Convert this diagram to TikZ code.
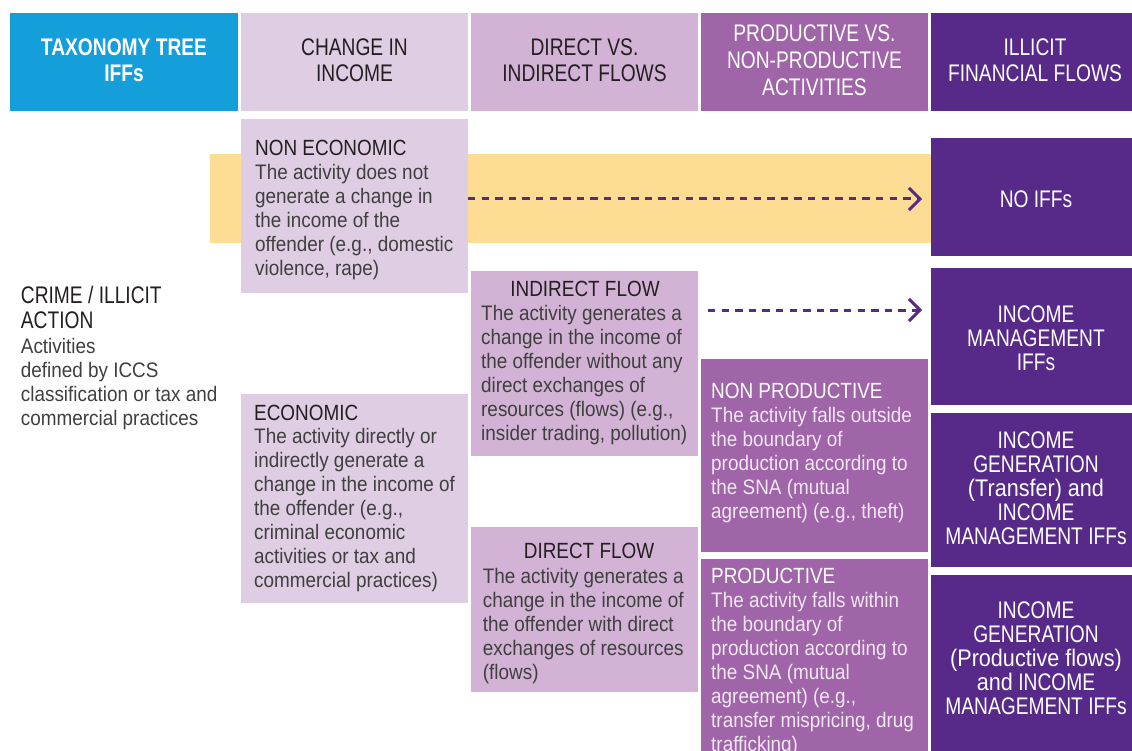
\documentclass[tikz,border=0pt]{standalone}
\usepackage{fontspec}
\setmainfont{Liberation Sans}
\newfontfamily\hdf[FakeStretch=0.8]{Liberation Sans}
\newfontfamily\hdlf[FakeStretch=0.9]{Liberation Sans}
\newfontfamily\sbf[FakeStretch=0.86]{Liberation Sans}
\newfontfamily\bdf[FakeStretch=0.9]{Liberation Sans}
\usetikzlibrary{arrows.meta}
\definecolor{cblue}{HTML}{149FDA}
\definecolor{clight}{HTML}{DFCDE3}
\definecolor{cmid}{HTML}{D2B3D5}
\definecolor{cpur}{HTML}{A064A9}
\definecolor{cdark}{HTML}{572A89}
\definecolor{cyel}{HTML}{FDDD93}
\definecolor{tdark}{HTML}{231F20}
\definecolor{tgray}{HTML}{3F3F3F}
\definecolor{tlite}{HTML}{F1E8F3}
\newcommand\bx[6]{\node[fill=#6, draw=none, inner sep=0pt, outer sep=0pt,
  minimum width={(#4-#2)*1pt}, minimum height={(#5-#3)*1pt},
  anchor=north west] (#1) at (#2,#3) {};}
\newcommand\fl{\rule{0pt}{20pt}}
\begin{document}
\begin{tikzpicture}[x=1pt,y=-1pt,
  hdtext/.style={font=\hdf\fontsize{24}{26.7}\selectfont, align=center, inner sep=0pt, anchor=north},
  rtext/.style={font=\hdf\fontsize{24}{24}\selectfont, align=center, inner sep=0pt, anchor=north, text=white},
  subhead/.style={font=\sbf\fontsize{22}{24}\selectfont, text=tdark, inner sep=0pt, anchor=base west},
  bodytext/.style={font=\bdf\fontsize{21}{24}\selectfont, text=tgray, align=left, inner sep=0pt, anchor=north west},
  flow/.style={draw=cdark, line width=3pt, dash pattern=on 7.3pt off 6.3pt,
    -{Straight Barb[length=11pt,width=22pt]}}
]
\useasboundingbox (0,0) rectangle (1132,751);
% header row
\bx{h0}{10}{13}{238}{111}{cblue}
\bx{h1}{241}{13}{468}{111}{clight}
\bx{h2}{471}{13}{698}{111}{cmid}
\bx{h3}{701}{13}{928}{111}{cpur}
\bx{h4}{931}{13}{1140}{111}{cdark}
\node[hdtext, text=white, font=\hdf\bfseries\fontsize{24}{26.7}\selectfont] (t0) at (124,35) {\fl TAXONOMY TREE\\IFFs};
\node[hdtext, text=tdark] (t1) at (354.5,35) {\fl CHANGE IN\\INCOME};
\node[hdtext, text=tdark] (t2) at (584.5,35) {\fl DIRECT VS.\\INDIRECT FLOWS};
\node[hdtext, text=white] (t3) at (814.5,21.7) {\fl PRODUCTIVE VS.\\NON-PRODUCTIVE\\ACTIVITIES};
\node[hdtext, text=white] (t4) at (1035,35) {\fl ILLICIT\\FINANCIAL FLOWS};
% body boxes
\bx{band}{210}{154}{931}{242.7}{cyel}
\bx{noneco}{241}{119}{468}{292.7}{clight}
\bx{eco}{241}{394}{468}{602.7}{clight}
\bx{indirect}{471}{271}{698}{456}{cmid}
\bx{direct}{471}{527.3}{698}{692.3}{cmid}
\bx{nonprod}{701}{359}{928}{551.7}{cpur}
\bx{prod}{701}{559.3}{928}{770}{cpur}
\bx{noifs}{931}{138}{1140}{256}{cdark}
\bx{incmgmt}{931}{268}{1140}{405}{cdark}
\bx{transfer}{931}{413}{1140}{567}{cdark}
\bx{prodflows}{931}{575}{1140}{770}{cdark}
% left text
\node[font=\hdf\fontsize{24}{25}\selectfont, text=tdark, align=left, inner sep=0pt, anchor=north west] (crimeh) at (20.7,283.3) {\fl CRIME / ILLICIT\\ACTION};
\node[bodytext] (crimeb) at (20.7,333.3) {\fl Activities\\defined by ICCS\\classification or tax and\\commercial practices};
% change in income
\node[subhead] (nonecoh) at (255,156) {NON ECONOMIC};
\node[bodytext] (nonecob) at (255,159.3) {\fl The activity does not\\generate a change in\\the income of the\\offender (e.g., domestic\\violence, rape)};
\node[subhead] (ecoh) at (254,420) {ECONOMIC};
\node[bodytext] (ecob) at (254,423.3) {\fl The activity directly or\\indirectly generate a\\change in the income of\\the offender (e.g.,\\criminal economic\\activities or tax and\\commercial practices)};
% direct vs indirect
\node[subhead, anchor=base] (indh) at (585,296.5) {INDIRECT FLOW};
\node[bodytext] (indb) at (481,300) {\fl The activity generates a\\change in the income of\\the offender without any\\direct exchanges of\\resources (flows) (e.g.,\\insider trading, pollution)};
\node[subhead, anchor=base] (dirh) at (589,558.3) {DIRECT FLOW};
\node[bodytext] (dirb) at (482.7,563.3) {\fl The activity generates a\\change in the income of\\the offender with direct\\exchanges of resources\\(flows)};
% productive vs non-productive
\node[subhead, text=white] (nonprodh) at (711,398.3) {NON PRODUCTIVE};
\node[bodytext, text=tlite] (nonprodb) at (711,402.7) {\fl The activity falls outside\\the boundary of\\production according to\\the SNA (mutual\\agreement) (e.g., theft)};
\node[subhead, text=white] (prodh) at (711,583.3) {PRODUCTIVE};
\node[bodytext, text=tlite] (prodb) at (711,587.3) {\fl The activity falls within\\the boundary of\\production according to\\the SNA (mutual\\agreement) (e.g.,\\transfer mispricing, drug\\trafficking)};
% IFF column
\node[rtext, anchor=base] (noifst) at (1036,207.3) {NO IFFs};
\node[rtext] (incmgmtt) at (1036,302.7) {\fl INCOME\\MANAGEMENT\\IFFs};
\node[rtext] (transfert) at (1036,428.3) {\fl INCOME\\GENERATION\\{\hdlf (Transfer) and}\\INCOME\\MANAGEMENT IFFs};
\node[rtext] (prodflowst) at (1036,598.3) {\fl INCOME\\GENERATION\\{\hdlf (Productive flows)}\\{\hdlf and} INCOME\\MANAGEMENT IFFs};
% arrows
\draw[flow] (noneco.east |- 0,199) -- ([xshift=-9pt]noifs.west |- 0,199);
\draw[flow] ([xshift=10pt]indirect.east |- 0,310) -- ([xshift=-9pt]incmgmt.west |- 0,310);
\end{tikzpicture}
\end{document}
